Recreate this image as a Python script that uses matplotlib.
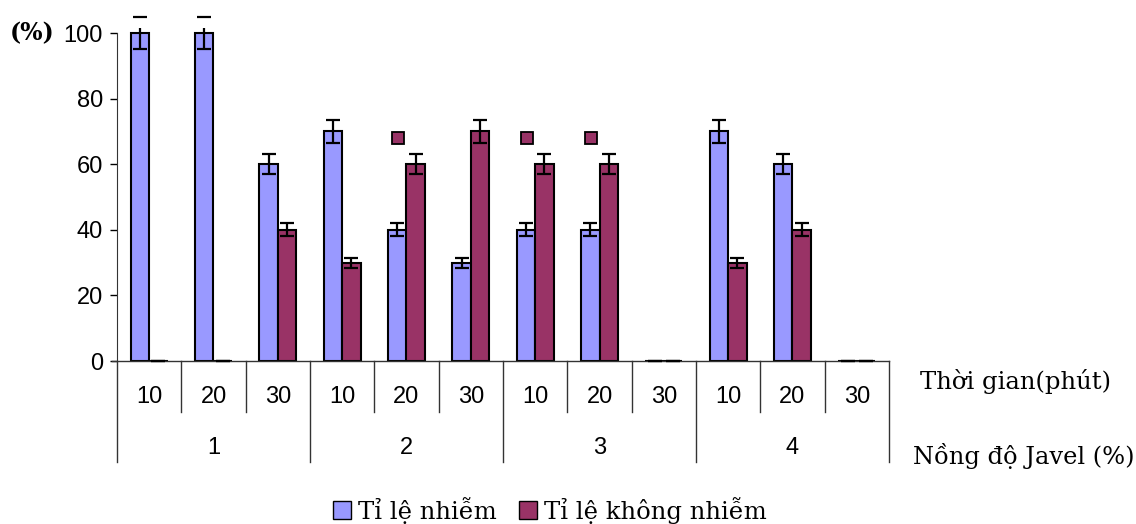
import numpy as np
import matplotlib
matplotlib.use("Agg")
import matplotlib.pyplot as plt
from matplotlib import transforms
from matplotlib.patches import Patch

# ---- data ----
concentrations = ["1", "2", "3", "4"]
times = ["10", "20", "30"]
infected = [100, 100, 60, 70, 40, 30, 40, 40, 0, 70, 60, 0]          # Tỉ lệ nhiễm
not_infected = [0, 0, 40, 30, 60, 70, 60, 60, 0, 30, 40, 0]          # Tỉ lệ không nhiễm
infected_err = [5, 5, 3, 3.5, 2, 1.5, 2, 2, 0, 3.5, 3, 0]
not_infected_err = [0, 0, 2, 1.5, 3, 3.5, 3, 3, 0, 1.5, 2, 0]
stray_marks = [np.nan, np.nan, np.nan, np.nan, 68, np.nan, 68, 68, np.nan, np.nan, np.nan, np.nan]
yticks = [0, 20, 40, 60, 80, 100]

BLUE = "#9999FF"
MAROON = "#993366"
SANS = "Liberation Sans"
SERIF = "DejaVu Serif"

W, H = 1136, 524
fig = plt.figure(figsize=(W / 100, H / 100), dpi=100)
ax_left, ax_right = 117, 889
y0_px, y100_px = 361, 33
ymax = 101.5
px_per = (y0_px - y100_px) / 100
top_px = y0_px - ymax * px_per
ax = fig.add_axes([ax_left / W, 1 - y0_px / H, (ax_right - ax_left) / W, (y0_px - top_px) / H])

n = len(infected)
x = np.arange(n)
bw = 0.29
ax.bar(x - bw / 2, infected, bw, color=BLUE, edgecolor="black", linewidth=1.5, zorder=2)
ax.bar(x + bw / 2, not_infected, bw, color=MAROON, edgecolor="black", linewidth=1.5, zorder=2)

for xs, vals, errs in [(x - bw / 2, infected, infected_err), (x + bw / 2, not_infected, not_infected_err)]:
    _, caps, bars = ax.errorbar(xs, vals, yerr=errs, fmt="none", ecolor="black",
                                elinewidth=1.6, capsize=5, capthick=1.6, zorder=3)
    for c in caps:
        c.set_clip_on(False)

ax.plot(x - bw / 2 + 0.02, stray_marks, linestyle="none", marker="s", markersize=8.5,
        markerfacecolor=MAROON, markeredgecolor="black", markeredgewidth=1.3, zorder=3)

ax.set_xlim(-0.5, n - 0.5)
ax.set_ylim(0, ymax)
ax.set_yticks(yticks)
ax.set_yticklabels([str(t) for t in yticks], fontsize=17, family=SANS)
ax.tick_params(axis="y", direction="out", length=5, width=1, pad=5)
ax.set_xticks([])
for s in ["top", "right"]:
    ax.spines[s].set_visible(False)
ax.spines["left"].set_bounds(0, 100)
ax.spines["left"].set_color("#333333")
ax.spines["bottom"].set_visible(False)

# hierarchical x axis
tr = transforms.blended_transform_factory(ax.transData, fig.transFigure)
fy = lambda py: 1 - py / H
ax.plot([-0.58, n - 0.5], [fy(361), fy(361)], transform=tr, color="#333333", lw=1, clip_on=False)
for b in range(n + 1):
    xb = b - 0.5
    bottom = 462 if b % 3 == 0 else 412
    ax.plot([xb, xb], [fy(361), fy(bottom)], transform=tr, color="#333333", lw=1, clip_on=False)
for i in range(n):
    ax.text(i, fy(397), times[i % 3], transform=tr, ha="center", va="center",
            fontsize=17, family=SANS)
for g, lab in enumerate(concentrations):
    ax.text(3 * g + 1, fy(448), lab, transform=tr, ha="center", va="center",
            fontsize=17, family=SANS)

fig.text(920 / W, fy(381), "Thời gian(phút)", ha="left", va="center", fontsize=17.5, family=SERIF)
fig.text(913 / W, fy(456), "Nồng độ Javel (%)", ha="left", va="center", fontsize=17.4, family=SERIF)
fig.text(10 / W, fy(33), "(%)", ha="left", va="center", fontsize=17, family=SERIF, fontweight="bold")

handles = [Patch(facecolor=BLUE, edgecolor="black", label="Tỉ lệ nhiễm"),
           Patch(facecolor=MAROON, edgecolor="black", label="Tỉ lệ không nhiễm")]
fig.legend(handles=handles, loc="center", bbox_to_anchor=(550 / W, fy(510)), ncol=2,
           frameon=False, prop={"family": SERIF, "size": 17.5}, handlelength=0.75,
           handleheight=0.75, handletextpad=0.3, columnspacing=0.9, borderpad=0)

fig.savefig("out.png", dpi=100)
